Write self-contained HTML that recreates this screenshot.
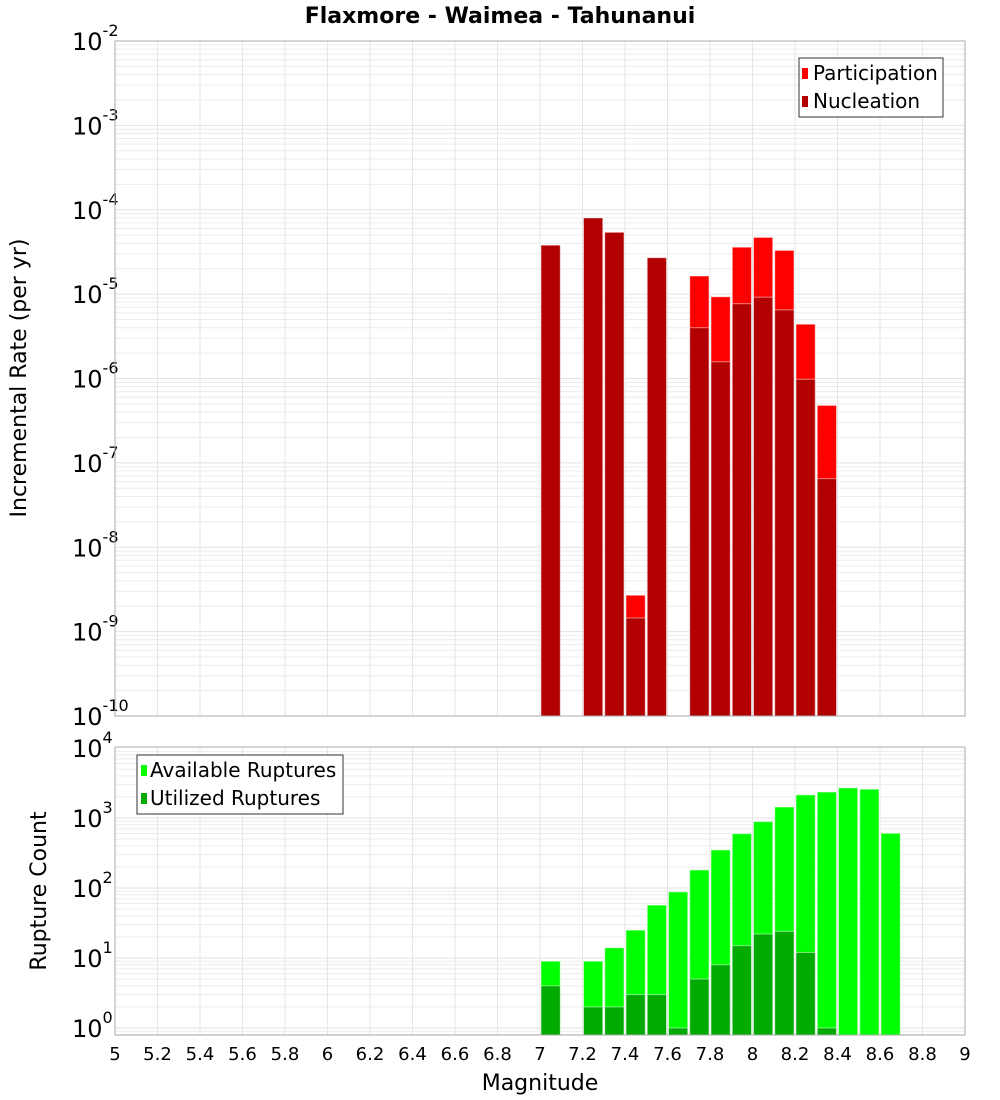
<!DOCTYPE html>
<html><head><meta charset="utf-8"><style>
body{margin:0;background:#fff}
svg{display:block;font-family:"DejaVu Sans","Liberation Sans",sans-serif}
</style></head><body>
<svg id="chart" width="1000" height="1100" xmlns="http://www.w3.org/2000/svg">
<text x="500" y="23" text-anchor="middle" font-size="22" font-weight="bold">Flaxmore - Waimea - Tahunanui</text>
<g id="gtop"></g>
<g id="gbot"></g>
<text transform="translate(26,378) rotate(-90)" text-anchor="middle" font-size="22">Incremental Rate (per yr)</text>
<text transform="translate(46,891) rotate(-90)" text-anchor="middle" font-size="22">Rupture Count</text>
<text x="540" y="1090" text-anchor="middle" font-size="22">Magnitude</text>
<g>
<rect x="799" y="58" width="144" height="59" fill="#fff" stroke="#333" stroke-width="1"/>
<rect x="802" y="68" width="6" height="11" fill="#ff0000"/>
<text x="813" y="80" font-size="20">Participation</text>
<rect x="802" y="96" width="6" height="11" fill="#b20000"/>
<text x="813" y="108" font-size="20">Nucleation</text>
</g>
<g>
<rect x="137" y="755" width="206" height="59" fill="#fff" stroke="#333" stroke-width="1"/>
<rect x="141" y="765" width="6" height="11" fill="#00ff00"/>
<text x="150" y="777" font-size="20">Available Ruptures</text>
<rect x="141" y="793" width="6" height="11" fill="#00aa00"/>
<text x="150" y="805" font-size="20">Utilized Ruptures</text>
</g>
</svg>
<script>
const mags = [7.0,7.2,7.3,7.4,7.5,7.7,7.8,7.9,8.0,8.1,8.2,8.3];
const participation = [3.8e-5,8.0e-5,5.4e-5,2.7e-9,2.7e-5,1.64e-5,9.3e-6,3.6e-5,4.7e-5,3.3e-5,4.4e-6,4.8e-7];
const nucleation = [3.8e-5,8.0e-5,5.4e-5,1.45e-9,2.7e-5,4.0e-6,1.58e-6,7.7e-6,9.2e-6,6.5e-6,9.8e-7,6.5e-8];
const countMags = [7.0,7.2,7.3,7.4,7.5,7.6,7.7,7.8,7.9,8.0,8.1,8.2,8.3,8.4,8.5,8.6];
const available = [9,9,14,25,57,88,181,350,597,888,1436,2140,2350,2690,2580,605];
const utilized = [4,2,2,3,3,1,5,8,15,22,24,12,1,0,0,0];
const xTicks = [5,5.2,5.4,5.6,5.8,6,6.2,6.4,6.6,6.8,7,7.2,7.4,7.6,7.8,8,8.2,8.4,8.6,8.8,9];
const topExps = [-2,-3,-4,-5,-6,-7,-8,-9,-10];
const botExps = [4,3,2,1,0];

const NS="http://www.w3.org/2000/svg";
const L=115,R=965;
const X=m=>L+(m-5)*(R-L)/4;
const Ytop=v=>41+84.375*(-2-Math.log10(v));
const Ybot=v=>1028-70*Math.log10(v);
function mk(p,tag,a){const e=document.createElementNS(NS,tag);for(const k in a)e.setAttribute(k,a[k]);p.appendChild(e);return e;}
function panel(g,y0,y1,yf,lo,hi,exps,name){
  mk(g,'rect',{x:L,y:y0,width:R-L,height:y1-y0,fill:'#fff'});
  for(let e=lo;e<hi;e++)for(let k=1;k<10;k++){const y=yf(k*Math.pow(10,e));if(y>=y0&&y<=y1)mk(g,'line',{x1:L,x2:R,y1:y,y2:y,stroke:k==1?'#e2e2e2':'#ececec','stroke-width':1});}
  xTicks.forEach(t=>{const x=X(t);mk(g,'line',{x1:x,x2:x,y1:y0,y2:y1,stroke:'#e6e6e6'});});
  exps.forEach(e=>{const t=mk(g,'text',{x:72,y:yf(Math.pow(10,e))+9,'font-size':24});
    
    
    t.textContent='10';const s=mk(t,'tspan',{dy:-14,'font-size':16});s.textContent=String(e);});
}
const gTop=document.getElementById('gtop'),gBot=document.getElementById('gbot');
panel(gTop,41,716,Ytop,-10,-2,topExps,'rate-y');
panel(gBot,747,1035,Ybot,-1,4,botExps,'count-y');
const bw=(R-L)/40;
function bar(g,m,v,yf,ybase,fill,name){
  if(v<=0)return;const y=yf(v);
  const r=mk(g,'rect',{x:X(m)+1,y:y,width:bw-2,height:ybase-y,fill:fill,stroke:'rgba(255,255,255,0.5)','stroke-width':1});
  
  
}
mags.forEach((m,i)=>{bar(gTop,m,participation[i],Ytop,716,'#ff0000','participation-bar');});
mags.forEach((m,i)=>{bar(gTop,m,nucleation[i],Ytop,716,'#b20000','nucleation-bar');});
countMags.forEach((m,i)=>{bar(gBot,m,available[i],Ybot,1035,'#00ff00','available-bar');});
countMags.forEach((m,i)=>{bar(gBot,m,utilized[i],Ybot,1035,'#00aa00','utilized-bar');});
mk(gTop,'rect',{x:L,y:41,width:R-L,height:675,fill:'none',stroke:'#aaa'});
mk(gBot,'rect',{x:L,y:747,width:R-L,height:288,fill:'none',stroke:'#aaa'});
xTicks.forEach(t=>{const e=mk(gBot,'text',{x:X(t),y:1060,'font-size':18,'text-anchor':'middle'});
  
  
  e.textContent=String(t);});
</script>
</body></html>
